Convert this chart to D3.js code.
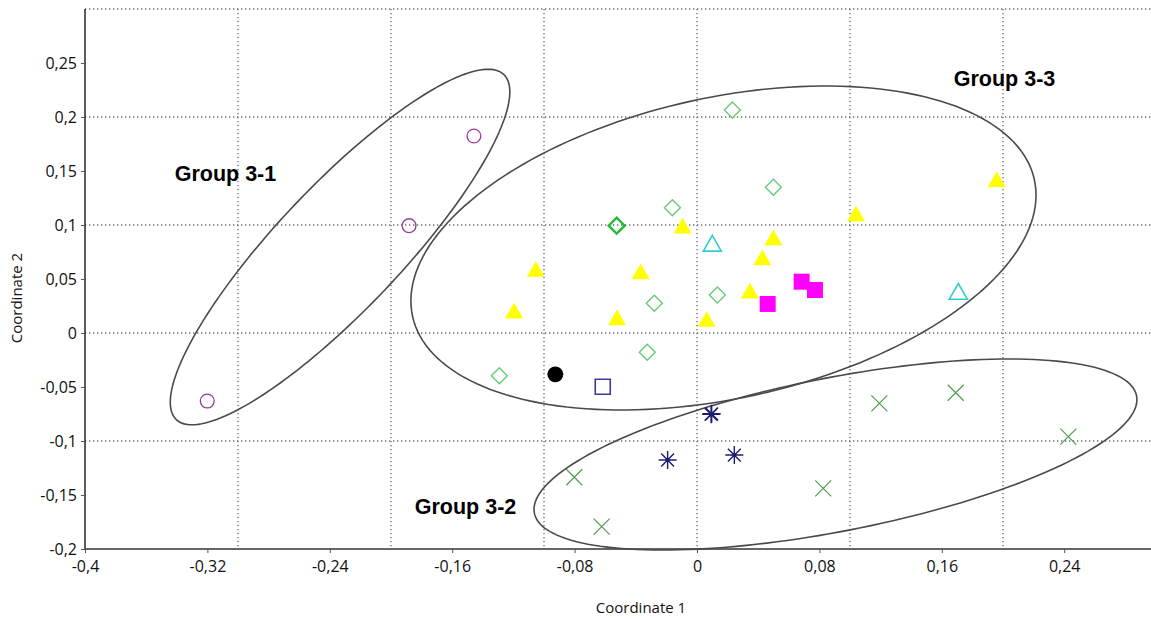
<!DOCTYPE html>
<html>
<head>
<meta charset="utf-8">
<script src="https://cdn.jsdelivr.net/npm/d3@7"></script>
<style>
	body { margin: 0; background: #fff; }
	svg { display: block; }
	.group-label { font-family: "Liberation Sans", Arial, sans-serif; font-size: 21.5px; font-weight: bold; fill: #000; }
</style>
</head>
<body>
<div id="chart"></div>
<script>
	// ticks and grid
	var xTicks = [-0.4, -0.32, -0.24, -0.16, -0.08, 0, 0.08, 0.16, 0.24];
	var yTicks = [-0.2, -0.15, -0.1, -0.05, 0, 0.05, 0.1, 0.15, 0.2, 0.25];
	var xGrid = [-0.3, -0.2, -0.1, 0, 0.1, 0.2];
	var yGrid = [-0.1, 0, 0.1, 0.2, 0.3];

	// point series [coord1, coord2]
	var purpleCircles = [[-0.1458, 0.1824], [-0.1882, 0.0994], [-0.3201, -0.063]];
	var greenDiamonds = [[0.0231, 0.2065], [0.0499, 0.1349], [-0.0161, 0.116], [-0.0279, 0.0275],
		[0.0133, 0.0352], [-0.0325, -0.0179], [-0.1292, -0.0395]];
	var boldDiamonds = [[-0.0525, 0.0994]];
	var yellowTriangles = [[-0.1054, 0.0568], [-0.1196, 0.0182], [-0.0523, 0.012], [-0.0368, 0.0546],
		[-0.0094, 0.097], [0.0063, 0.0105], [0.0346, 0.0367], [0.0427, 0.0676], [0.0499, 0.0861],
		[0.1039, 0.1083], [0.1959, 0.1401]];
	var cyanTriangles = [[0.01, 0.0806], [0.1708, 0.0361]];
	var magentaSquares = [[0.0462, 0.0269], [0.0684, 0.0475], [0.0771, 0.0398]];
	var blackCircles = [[-0.0926, -0.0383]];
	var blueSquares = [[-0.0616, -0.0497]];
	var navyStars = [[0.0092, -0.0753], [0.0096, -0.0748], [-0.0192, -0.1176], [0.0244, -0.113]];
	var greenCrosses = [[-0.0802, -0.1336], [-0.0623, -0.1793], [0.0825, -0.1438], [0.1192, -0.0651],
		[0.1691, -0.0553], [0.2427, -0.096]];

	// ellipses: centre, then two semi-axis vectors, all in data units
	var ellipses = [
		[-0.2333, 0.0796, 0.1070, 0.1598, 0.0294, -0.0395],
		[0.0173, 0.0787, 0.2032, 0.0633, 0.0211, -0.1360],
		[0.0905, -0.1125, 0.1968, 0.0543, 0.0096, -0.0698]
	];

	var groupLabels = [["Group 3-1", -0.3082, 0.141], ["Group 3-3", 0.201, 0.229], ["Group 3-2", -0.1513, -0.1673]];

	var W = 1151, H = 619;
	var svg = d3.select('#chart').append('svg').attr('width', W).attr('height', H);

	var xScale = d3.scaleLinear().domain([-0.4, 0.3]).range([85, 1156]);
	var yScale = d3.scaleLinear().domain([-0.2, 0.3]).range([549, 9]);

	var fmt = function(d) { return String(+d.toFixed(2)).replace('.', ','); };

	// grid
	var grid = svg.append('g').attr('class', 'grid');
	grid.selectAll('.vg').data(xGrid).enter().append('line')
		.attr('x1', function(d) { return xScale(d); }).attr('x2', function(d) { return xScale(d); })
		.attr('y1', yScale(0.3)).attr('y2', yScale(-0.2))
		.attr('stroke', '#6a6a6a').attr('stroke-width', 1.3).attr('stroke-dasharray', '1.3,2.7');
	grid.selectAll('.hg').data(yGrid).enter().append('line')
		.attr('x1', xScale(-0.4)).attr('x2', W)
		.attr('y1', function(d) { return yScale(d); }).attr('y2', function(d) { return yScale(d); })
		.attr('stroke', '#6a6a6a').attr('stroke-width', 1.3).attr('stroke-dasharray', '1.3,2.7');

	// axes
	var xAxis = d3.axisBottom(xScale).tickValues(xTicks).tickFormat(fmt).tickSize(4).tickSizeOuter(0).tickPadding(8);
	var yAxis = d3.axisLeft(yScale).tickValues(yTicks).tickFormat(fmt).tickSize(4).tickSizeOuter(0).tickPadding(4);
	var gX = svg.append('g').attr('transform', 'translate(0,' + yScale(-0.2) + ')').call(xAxis);
	var gY = svg.append('g').attr('transform', 'translate(' + xScale(-0.4) + ',0)').call(yAxis);
	[gX, gY].forEach(function(g) {
		g.attr('font-family', 'Open Sans, sans-serif').attr('font-size', 16);
		g.selectAll('.tick text').style('font-family', '"Open Sans", sans-serif')
			.style('font-size', '16px').style('fill', '#111');
		g.select('.domain').attr('stroke', '#333').attr('stroke-width', 1.6);
		g.selectAll('.tick line').attr('stroke', '#555');
	});
	gY.select('.domain').attr('d', 'M0,' + yScale(0.3) + 'V' + yScale(-0.2));
	gX.select('.domain').attr('d', 'M' + xScale(-0.4) + ',0H' + W);

	svg.append('text').attr('x', 641).attr('y', 613)
		.style('font-family', '"Open Sans", sans-serif').style('font-size', '15px').style('fill', '#111')
		.attr('text-anchor', 'middle').text('Coordinate 1');
	svg.append('text').attr('transform', 'translate(22,298) rotate(-90)')
		.style('font-family', '"Open Sans", sans-serif').style('font-size', '15px').style('fill', '#111')
		.attr('text-anchor', 'middle').text('Coordinate 2');

	// ellipses
	var ellipseLine = d3.line().curve(d3.curveLinearClosed);
	svg.append('g').selectAll('path').data(ellipses).enter().append('path')
		.attr('d', function(e) {
			var pts = d3.range(0, 360, 2).map(function(a) {
				var t = a * Math.PI / 180, c = Math.cos(t), s = Math.sin(t);
				return [xScale(e[0] + e[2] * c + e[4] * s), yScale(e[1] + e[3] * c + e[5] * s)];
			});
			return ellipseLine(pts);
		})
		.attr('fill', 'none').attr('stroke', '#4a4a4a').attr('stroke-width', 1.6);

	// marker helpers
	function plot(data, pathFn, fill, stroke, sw) {
		svg.append('g').selectAll('path').data(data).enter().append('path')
			.attr('transform', function(d) { return 'translate(' + xScale(d[0]) + ',' + yScale(d[1]) + ')'; })
			.attr('d', pathFn)
			.attr('fill', fill).attr('stroke', stroke).attr('stroke-width', sw);
	}
	var diamond = 'M0,-8L8,0L0,8L-8,0Z';
	var square = function(s) { return 'M' + -s + ',' + -s + 'H' + s + 'V' + s + 'H' + -s + 'Z'; };
	var triangle = 'M0,-10.5L9,5.2L-9,5.2Z';
	var star = 'M0,-9V9M-9,0H9M-6.4,-6.4L6.4,6.4M-6.4,6.4L6.4,-6.4';
	var cross = 'M-8,-8L8,8M-8,8L8,-8';

	plot(purpleCircles, d3.symbol(d3.symbolCircle, 150)(), 'none', '#9a3d9a', 1.3);
	plot(greenDiamonds, diamond, 'none', '#66cc77', 1.4);
	plot(boldDiamonds, diamond, 'none', '#22bb33', 2.4);
	plot(yellowTriangles, triangle, '#ffff00', 'none', 0);
	plot(cyanTriangles, triangle, 'none', '#33cccc', 1.6);
	plot(magentaSquares, square(8), '#ff00ff', 'none', 0);
	plot(blackCircles, d3.symbol(d3.symbolCircle, 200)(), '#000', 'none', 0);
	plot(blueSquares, square(7.5), 'none', '#3a3aa0', 1.6);
	plot(navyStars, star, 'none', '#1c1c70', 1.4);
	plot(greenCrosses, cross, 'none', '#4c9e4c', 1.2);
	svg.append('g').selectAll('circle').data(navyStars).enter().append('circle')
		.attr('cx', function(d) { return xScale(d[0]); }).attr('cy', function(d) { return yScale(d[1]); })
		.attr('r', 2).attr('fill', '#1c1c70');

	// group labels
	svg.append('g').selectAll('text').data(groupLabels).enter().append('text')
		.attr('class', 'group-label').attr('text-anchor', 'middle')
		.attr('x', function(d) { return xScale(d[1]); }).attr('y', function(d) { return yScale(d[2]); })
		.text(function(d) { return d[0]; });
</script>
</body>
</html>
